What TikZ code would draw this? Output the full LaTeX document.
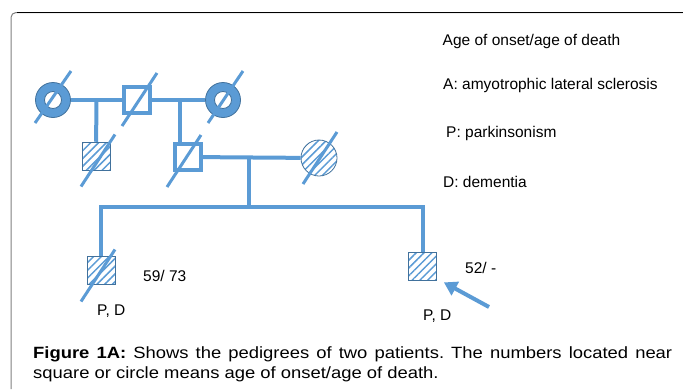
\documentclass[tikz,border=0pt]{standalone}
\usepackage{fontspec}
\setmainfont{Liberation Sans}
\newfontfamily\capfont[FakeStretch=1.13]{Liberation Sans}
\usetikzlibrary{arrows.meta, patterns.meta}
\definecolor{pedblue}{RGB}{91,155,213}
\definecolor{peddark}{RGB}{65,113,156}
\frenchspacing
\tikzset{
  conn/.style={draw=pedblue, line width=4pt},
  slash/.style={draw=pedblue, line width=3pt},
  ring/.style={circle, minimum size=35pt, inner sep=0pt, fill=pedblue, draw=peddark, line width=0.8pt,
    path picture={\draw[peddark, fill=white, line width=0.8pt] (path picture bounding box.center) circle (8.5pt);}},
  openbox/.style={rectangle, minimum size=26pt, inner sep=0pt, fill=white, draw=pedblue, line width=4pt},
  hatchbox/.style={rectangle, minimum size=28pt, inner sep=0pt, draw=peddark, line width=0.8pt,
    pattern={Lines[angle=45, distance=5.5pt, line width=1.5pt]}, pattern color=pedblue},
  hatchcirc/.style={circle, minimum size=36pt, inner sep=0pt, draw=peddark, line width=0.8pt,
    pattern={Lines[angle=45, distance=5.5pt, line width=1.5pt]}, pattern color=pedblue},
  lbl/.style={anchor=base west, inner sep=0pt, font=\fontsize{15.5}{18}\selectfont}
}
\begin{document}
\begin{tikzpicture}[x=1pt, y=-1pt]
  \useasboundingbox (0,0) rectangle (683,389);
  % frame
  \draw[gray, line width=1pt, rounded corners=5pt] (11,389) -- (11,12.5) -- (683,12.5);
  \draw[black, line width=1pt] (17,12.5) -- (683,12.5);

  % first generation
  \node[ring] (c1) at (53,100) {};
  \node[openbox] (s2) at (137,100) {};
  \node[ring] (c3) at (223,100) {};
  % second generation
  \node[hatchbox] (s4) at (96,156.5) {};
  \node[openbox] (s5) at (188,157) {};
  \node[hatchcirc] (c6) at (319,158) {};
  % third generation
  \node[hatchbox] (s7) at (101,270.5) {};
  \node[hatchbox] (s8) at (422.5,266) {};

  % couples and descent
  \draw[conn] (c1) -- (s2) coordinate[midway] (m1);
  \draw[conn] (s2) -- (c3) coordinate[pos=0.52] (m2);
  \draw[conn] (s5) -- (c6) coordinate[pos=0.47] (m3);
  \draw[conn] (m1) -- (s4);
  \draw[conn] (m2) -- (m2 |- s5.north);
  \coordinate (sr) at (s8.north |- 0,207);
  \draw[conn] (m3) -- (m3 |- sr);
  \draw[conn] (s7.north) |- (sr) -- (s8.north);

  % deceased
  \draw[slash] ([shift={(-18,23)}]c1.center) -- ([shift={(18,-29)}]c1.center);
  \draw[slash] ([shift={(-15,26)}]s2.center) -- ([shift={(20,-27)}]s2.center);
  \draw[slash] ([shift={(-15,23)}]c3.center) -- ([shift={(20,-29)}]c3.center);
  \draw[slash] ([shift={(-15,30)}]s4.center) -- ([shift={(19,-22)}]s4.center);
  \draw[slash] ([shift={(-21,30)}]s5.center) -- ([shift={(13,-22)}]s5.center);
  \draw[slash] ([shift={(-16,26)}]c6.center) -- ([shift={(18,-26)}]c6.center);
  \draw[slash] ([shift={(-20,31)}]s7.center) -- ([shift={(14,-21)}]s7.center);

  % proband
  \coordinate (ptail) at (489,307);
  \draw[conn, -{Triangle[length=13pt, width=15pt]}] (ptail) -- ([shift={(7,2)}]s8.south east);

  % labels
  \node[lbl] (ages7) at (143,281) {59/ 73};
  \node[lbl] (sym7) at (97,315) {P, D};
  \node[lbl] (ages8) at (465,273) {52/ -};
  \node[lbl] (sym8) at (423,320) {P, D};

  % legend
  \node[lbl] (key0) at (442.5,45) {Age of onset/age of death};
  \node[lbl] (key1) at (443,89.5) {A: amyotrophic lateral sclerosis};
  \node[lbl] (key2) at (446,137) {P: parkinsonism};
  \node[lbl] (key3) at (443,187) {D: dementia};

  % caption
  \node[anchor=north west, inner sep=0pt, text width=639pt, align=justify,
    font=\capfont\fontsize{16.3}{19.5}\selectfont] (cap) at (33,346.5)
    {\textbf{Figure 1A:} Shows the pedigrees of two patients. The numbers located near\linebreak
     square or circle means age of onset/age of death.};
\end{tikzpicture}
\end{document}
